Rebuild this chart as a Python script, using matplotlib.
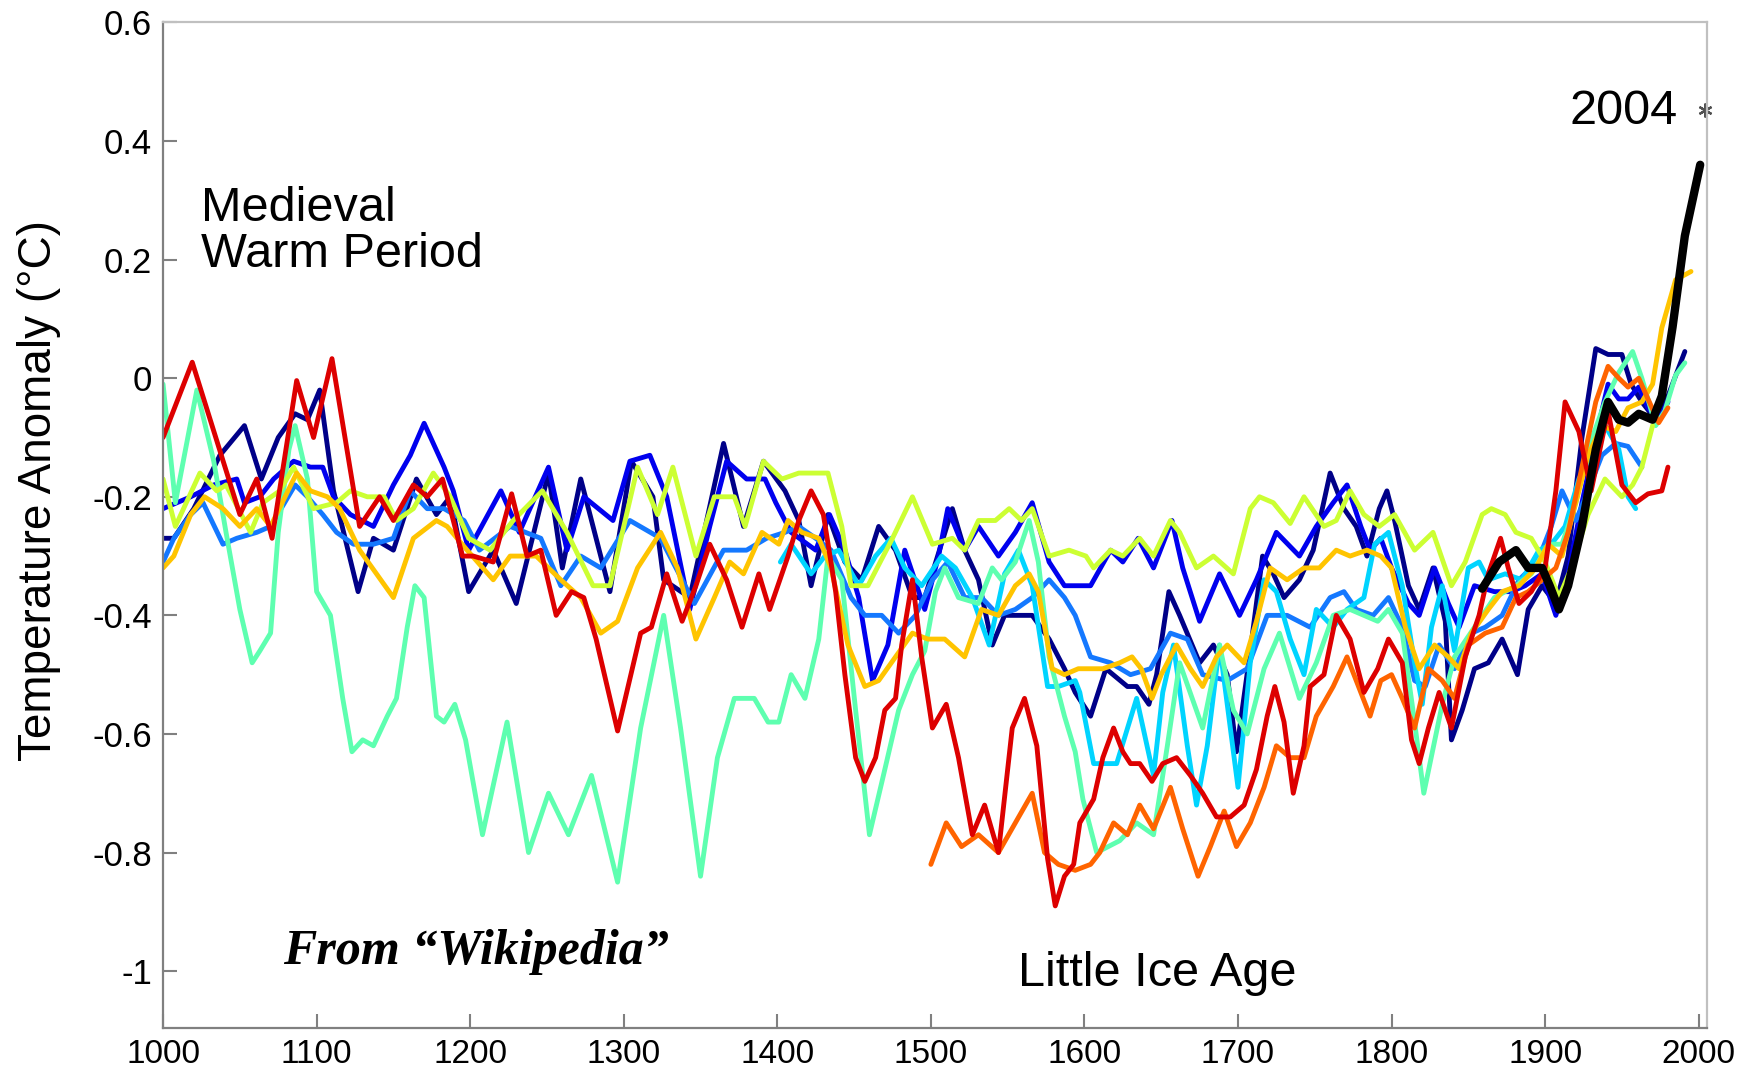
"""
plot.py

Spaghetti plot of ten millennium temperature reconstructions plus the
instrumental record (anomaly in degC, years 1000-2004).
"""

import matplotlib
matplotlib.use("Agg")
import matplotlib.pyplot as plt
from matplotlib import rcParams

# ── data ───────────────────────────────────────────────────────────────────
navy_years = [1000, 1007, 1020, 1037, 1053, 1064, 1075, 1086, 1094, 1102, 1111, 1127, 1137, 1150, 1165,
              1178, 1187, 1199, 1215, 1230, 1251, 1260, 1272, 1291, 1305, 1319, 1326, 1343, 1365, 1378,
              1391, 1405, 1414, 1422, 1433, 1444, 1455, 1466, 1477, 1488, 1496, 1514, 1522, 1531, 1540,
              1548, 1557, 1566, 1577, 1587, 1594, 1604, 1614, 1628, 1634, 1642, 1647, 1655, 1662, 1675,
              1684, 1693, 1699, 1708, 1716, 1723, 1730, 1740, 1749, 1760, 1769, 1777, 1784, 1792, 1797,
              1802, 1811, 1818, 1827, 1835, 1839, 1846, 1854, 1863, 1872, 1882, 1889, 1898, 1907, 1915,
              1924, 1933, 1941, 1950, 1956, 1963, 1972, 1980, 1991]
navy_vals = [-0.27, -0.27, -0.22, -0.13, -0.08, -0.17, -0.10, -0.06, -0.07, -0.02, -0.19, -0.36, -0.27, -0.29, -0.17,
             -0.23, -0.20, -0.36, -0.29, -0.38, -0.16, -0.32, -0.17, -0.36, -0.14, -0.20, -0.34, -0.37, -0.11, -0.25,
             -0.14, -0.19, -0.24, -0.35, -0.23, -0.31, -0.34, -0.25, -0.29, -0.37, -0.37, -0.22, -0.29, -0.34, -0.45,
             -0.40, -0.40, -0.40, -0.44, -0.49, -0.53, -0.57, -0.49, -0.52, -0.52, -0.55, -0.50, -0.36, -0.40, -0.48,
             -0.45, -0.50, -0.63, -0.46, -0.30, -0.33, -0.37, -0.34, -0.29, -0.16, -0.22, -0.25, -0.30, -0.22, -0.19,
             -0.24, -0.35, -0.39, -0.32, -0.41, -0.61, -0.56, -0.49, -0.48, -0.44, -0.50, -0.39, -0.35, -0.38, -0.30,
             -0.10, 0.05, 0.04, 0.04, -0.01, -0.04, -0.07, -0.03, 0.045]

blue_years = [1000, 1018, 1033, 1048, 1053, 1063, 1072, 1085, 1096, 1104, 1111, 1122, 1137, 1150, 1161,
              1170, 1183, 1189, 1199, 1220, 1232, 1251, 1263, 1274, 1293, 1304, 1317, 1328, 1343, 1356,
              1367, 1380, 1392, 1399, 1409, 1425, 1434, 1444, 1453, 1462, 1472, 1483, 1496, 1505, 1511,
              1522, 1531, 1544, 1555, 1566, 1577, 1587, 1594, 1604, 1617, 1625, 1635, 1645, 1657, 1664,
              1675, 1688, 1701, 1712, 1725, 1740, 1751, 1762, 1771, 1780, 1786, 1793, 1800, 1811, 1818,
              1828, 1837, 1844, 1854, 1867, 1878, 1887, 1898, 1907, 1915, 1924, 1933, 1941, 1948, 1954,
              1961, 1967, 1974, 1980]
blue_vals = [-0.22, -0.20, -0.18, -0.17, -0.21, -0.20, -0.17, -0.14, -0.15, -0.15, -0.20, -0.23, -0.25, -0.18, -0.13,
             -0.076, -0.15, -0.19, -0.29, -0.19, -0.26, -0.15, -0.29, -0.20, -0.24, -0.14, -0.13, -0.20, -0.39, -0.25,
             -0.14, -0.17, -0.17, -0.21, -0.26, -0.29, -0.23, -0.29, -0.37, -0.51, -0.45, -0.29, -0.39, -0.30, -0.22,
             -0.29, -0.25, -0.30, -0.26, -0.21, -0.31, -0.35, -0.35, -0.35, -0.29, -0.31, -0.27, -0.32, -0.24, -0.32,
             -0.41, -0.33, -0.40, -0.34, -0.26, -0.30, -0.25, -0.21, -0.18, -0.25, -0.29, -0.27, -0.32, -0.38, -0.40,
             -0.32, -0.38, -0.42, -0.35, -0.36, -0.36, -0.35, -0.33, -0.40, -0.33, -0.21, -0.10, -0.01, -0.035, -0.035,
             -0.015, -0.05, -0.07, -0.04]

ltblue_years = [1000, 1007, 1018, 1026, 1039, 1048, 1061, 1070, 1086, 1094, 1104, 1113, 1124, 1137, 1150,
                1161, 1172, 1183, 1196, 1206, 1226, 1246, 1259, 1272, 1285, 1304, 1324, 1346, 1365, 1380,
                1393, 1405, 1414, 1425, 1435, 1448, 1457, 1468, 1479, 1490, 1501, 1511, 1522, 1533, 1544,
                1555, 1566, 1577, 1587, 1594, 1604, 1617, 1630, 1643, 1656, 1667, 1677, 1693, 1706, 1719,
                1732, 1747, 1760, 1769, 1777, 1788, 1798, 1807, 1815, 1822, 1831, 1841, 1852, 1861, 1872,
                1883, 1891, 1898, 1904, 1911, 1920, 1928, 1937, 1946, 1954, 1963]
ltblue_vals = [-0.31, -0.27, -0.23, -0.21, -0.28, -0.27, -0.26, -0.25, -0.18, -0.20, -0.23, -0.26, -0.28, -0.28, -0.27,
               -0.19, -0.22, -0.22, -0.24, -0.29, -0.25, -0.27, -0.35, -0.30, -0.32, -0.24, -0.27, -0.38, -0.29, -0.29,
               -0.27, -0.26, -0.25, -0.27, -0.29, -0.37, -0.40, -0.40, -0.43, -0.40, -0.34, -0.31, -0.37, -0.37, -0.40,
               -0.39, -0.37, -0.34, -0.37, -0.40, -0.47, -0.48, -0.50, -0.49, -0.43, -0.44, -0.50, -0.51, -0.49, -0.40,
               -0.40, -0.42, -0.37, -0.36, -0.39, -0.40, -0.37, -0.42, -0.51, -0.52, -0.45, -0.49, -0.43, -0.42, -0.40,
               -0.34, -0.32, -0.29, -0.25, -0.19, -0.24, -0.19, -0.13, -0.11, -0.115, -0.15]

cyan_years = [1402, 1409, 1422, 1431, 1440, 1453, 1464, 1474, 1483, 1494, 1507, 1516, 1527, 1538, 1548,
              1557, 1566, 1576, 1583, 1594, 1597, 1606, 1621, 1634, 1645, 1651, 1658, 1667, 1673, 1680,
              1688, 1700, 1708, 1717, 1725, 1734, 1743, 1751, 1762, 1771, 1782, 1789, 1798, 1807, 1815,
              1820, 1826, 1833, 1841, 1850, 1857, 1863, 1874, 1885, 1896, 1904, 1913, 1922, 1930, 1939,
              1948, 1954, 1959]
cyan_vals = [-0.31, -0.28, -0.33, -0.30, -0.29, -0.35, -0.30, -0.27, -0.32, -0.35, -0.30, -0.32, -0.37, -0.45, -0.33,
             -0.29, -0.35, -0.52, -0.52, -0.51, -0.53, -0.65, -0.65, -0.54, -0.67, -0.53, -0.45, -0.62, -0.72, -0.62,
             -0.45, -0.69, -0.48, -0.34, -0.36, -0.44, -0.50, -0.39, -0.42, -0.39, -0.37, -0.28, -0.26, -0.35, -0.48,
             -0.55, -0.42, -0.35, -0.46, -0.32, -0.31, -0.34, -0.33, -0.34, -0.29, -0.28, -0.25, -0.17, -0.13, -0.08,
             -0.12, -0.20, -0.22]

mint_years = [1000, 1008, 1022, 1033, 1041, 1050, 1058, 1063, 1070, 1075, 1082, 1086, 1094, 1100, 1109,
              1117, 1123, 1130, 1137, 1146, 1152, 1159, 1164, 1170, 1178, 1183, 1190, 1197, 1208, 1224,
              1238, 1251, 1264, 1279, 1296, 1311, 1326, 1337, 1350, 1361, 1372, 1385, 1394, 1401, 1409,
              1418, 1427, 1433, 1442, 1451, 1460, 1470, 1479, 1488, 1496, 1503, 1509, 1518, 1531, 1540,
              1546, 1555, 1564, 1570, 1577, 1587, 1594, 1599, 1608, 1623, 1634, 1645, 1654, 1662, 1677,
              1688, 1697, 1706, 1717, 1727, 1740, 1751, 1762, 1773, 1782, 1791, 1798, 1807, 1815, 1821,
              1833, 1841, 1854, 1867, 1881, 1891, 1902, 1911, 1920, 1928, 1939, 1948, 1957, 1963, 1972,
              1978, 1985, 1991]
mint_vals = [-0.01, -0.21, -0.02, -0.14, -0.26, -0.39, -0.48, -0.46, -0.43, -0.26, -0.12, -0.08, -0.17, -0.36, -0.40,
             -0.54, -0.63, -0.61, -0.62, -0.57, -0.54, -0.42, -0.35, -0.37, -0.57, -0.58, -0.55, -0.61, -0.77, -0.58,
             -0.80, -0.70, -0.77, -0.67, -0.85, -0.59, -0.40, -0.59, -0.84, -0.64, -0.54, -0.54, -0.58, -0.58, -0.50,
             -0.54, -0.44, -0.30, -0.34, -0.56, -0.77, -0.66, -0.56, -0.50, -0.46, -0.36, -0.32, -0.37, -0.38, -0.32,
             -0.34, -0.31, -0.24, -0.31, -0.47, -0.57, -0.63, -0.71, -0.80, -0.78, -0.75, -0.77, -0.62, -0.48, -0.59,
             -0.45, -0.56, -0.60, -0.49, -0.43, -0.54, -0.48, -0.40, -0.39, -0.40, -0.41, -0.39, -0.43, -0.58, -0.70,
             -0.55, -0.47, -0.42, -0.37, -0.35, -0.33, -0.28, -0.28, -0.21, -0.12, -0.04, 0.01, 0.045, 0.0, -0.08,
             -0.055, 0.005, 0.026]

lime_years = [1000, 1008, 1024, 1035, 1041, 1057, 1065, 1076, 1085, 1098, 1113, 1122, 1133, 1144, 1152,
              1163, 1176, 1187, 1199, 1213, 1228, 1247, 1263, 1280, 1291, 1309, 1322, 1332, 1347, 1359,
              1372, 1379, 1391, 1403, 1414, 1425, 1433, 1442, 1448, 1459, 1475, 1488, 1501, 1514, 1522,
              1531, 1542, 1551, 1559, 1566, 1577, 1590, 1601, 1606, 1617, 1625, 1636, 1645, 1656, 1662,
              1673, 1684, 1697, 1708, 1714, 1723, 1734, 1743, 1756, 1764, 1773, 1782, 1792, 1802, 1815,
              1827, 1839, 1848, 1859, 1865, 1874, 1881, 1891, 1900, 1909, 1917, 1928, 1939, 1950, 1957,
              1963, 1970]
lime_vals = [-0.17, -0.25, -0.16, -0.19, -0.18, -0.26, -0.21, -0.19, -0.15, -0.22, -0.21, -0.19, -0.20, -0.20, -0.24,
             -0.22, -0.16, -0.20, -0.27, -0.29, -0.24, -0.19, -0.26, -0.35, -0.35, -0.15, -0.23, -0.15, -0.30, -0.20,
             -0.20, -0.25, -0.14, -0.17, -0.16, -0.16, -0.16, -0.25, -0.35, -0.35, -0.27, -0.20, -0.28, -0.27, -0.29,
             -0.24, -0.24, -0.22, -0.24, -0.22, -0.30, -0.29, -0.30, -0.32, -0.29, -0.30, -0.27, -0.30, -0.24, -0.26,
             -0.32, -0.30, -0.33, -0.22, -0.20, -0.21, -0.245, -0.20, -0.25, -0.24, -0.19, -0.23, -0.25, -0.23, -0.29,
             -0.26, -0.35, -0.31, -0.23, -0.22, -0.23, -0.26, -0.27, -0.31, -0.37, -0.32, -0.23, -0.17, -0.20, -0.18,
             -0.15, -0.08]

gold_years = [1000, 1007, 1018, 1027, 1039, 1050, 1061, 1070, 1087, 1096, 1107, 1115, 1128, 1139, 1150,
              1163, 1178, 1185, 1198, 1215, 1226, 1243, 1259, 1272, 1285, 1296, 1309, 1324, 1335, 1347,
              1359, 1369, 1378, 1390, 1401, 1407, 1416, 1427, 1435, 1446, 1457, 1466, 1477, 1488, 1498,
              1509, 1522, 1533, 1544, 1555, 1564, 1570, 1579, 1587, 1596, 1612, 1623, 1631, 1637, 1644,
              1650, 1660, 1669, 1677, 1686, 1693, 1704, 1712, 1721, 1732, 1743, 1753, 1764, 1773, 1784,
              1793, 1800, 1809, 1818, 1828, 1837, 1844, 1852, 1863, 1872, 1883, 1894, 1902, 1911, 1920,
              1928, 1937, 1946, 1954, 1963, 1970, 1976, 1985, 1995]
gold_vals = [-0.32, -0.30, -0.23, -0.20, -0.22, -0.25, -0.22, -0.25, -0.16, -0.19, -0.20, -0.22, -0.29, -0.33, -0.37,
             -0.27, -0.24, -0.25, -0.29, -0.34, -0.30, -0.30, -0.34, -0.37, -0.43, -0.41, -0.32, -0.26, -0.32, -0.44,
             -0.37, -0.31, -0.33, -0.26, -0.28, -0.24, -0.26, -0.27, -0.32, -0.45, -0.52, -0.51, -0.47, -0.43, -0.44,
             -0.44, -0.47, -0.39, -0.40, -0.35, -0.33, -0.36, -0.49, -0.50, -0.49, -0.49, -0.48, -0.47, -0.49, -0.54,
             -0.50, -0.45, -0.49, -0.52, -0.47, -0.45, -0.48, -0.41, -0.32, -0.34, -0.32, -0.32, -0.29, -0.30, -0.29,
             -0.30, -0.32, -0.42, -0.49, -0.45, -0.47, -0.49, -0.43, -0.39, -0.36, -0.35, -0.32, -0.28, -0.30, -0.21,
             -0.13, -0.08, -0.09, -0.05, -0.04, -0.01, 0.085, 0.166, 0.18]

orange_years = [1500, 1510, 1520, 1531, 1544, 1555, 1566, 1574, 1583, 1594, 1604, 1610, 1619, 1628, 1636,
                1645, 1656, 1664, 1674, 1682, 1691, 1699, 1708, 1717, 1725, 1734, 1743, 1751, 1762, 1771,
                1777, 1786, 1793, 1800, 1807, 1815, 1824, 1833, 1841, 1850, 1861, 1872, 1881, 1889, 1898,
                1907, 1915, 1924, 1933, 1941, 1948, 1954, 1961, 1967, 1974, 1980]
orange_vals = [-0.82, -0.75, -0.79, -0.77, -0.80, -0.75, -0.70, -0.80, -0.82, -0.83, -0.82, -0.80, -0.75, -0.77, -0.72,
               -0.76, -0.69, -0.76, -0.84, -0.79, -0.73, -0.79, -0.75, -0.69, -0.62, -0.64, -0.64, -0.57, -0.52, -0.47,
               -0.51, -0.57, -0.51, -0.50, -0.54, -0.59, -0.49, -0.51, -0.54, -0.45, -0.43, -0.42, -0.37, -0.36, -0.34,
               -0.32, -0.26, -0.15, -0.04, 0.02, 0.0, -0.015, 0.0, -0.035, -0.075, -0.05]

red_years = [1000, 1019, 1050, 1061, 1071, 1087, 1098, 1110, 1128, 1141, 1150, 1163, 1172, 1182, 1195,
             1202, 1215, 1227, 1237, 1246, 1256, 1266, 1274, 1282, 1296, 1311, 1318, 1328, 1338, 1347,
             1356, 1367, 1377, 1388, 1395, 1407, 1414, 1422, 1430, 1438, 1444, 1451, 1457, 1464, 1470,
             1477, 1481, 1488, 1494, 1501, 1510, 1518, 1527, 1535, 1544, 1553, 1561, 1569, 1576, 1581,
             1587, 1593, 1597, 1606, 1612, 1619, 1625, 1630, 1636, 1644, 1651, 1660, 1669, 1677, 1686,
             1695, 1704, 1712, 1719, 1724, 1730, 1736, 1743, 1747, 1756, 1764, 1773, 1782, 1791, 1798,
             1807, 1813, 1818, 1824, 1831, 1839, 1848, 1857, 1863, 1871, 1876, 1883, 1891, 1900, 1907,
             1913, 1922, 1930, 1941, 1950, 1959, 1967, 1976, 1980]
red_vals = [-0.10, 0.027, -0.23, -0.17, -0.27, -0.004, -0.10, 0.033, -0.25, -0.20, -0.24, -0.18, -0.20, -0.17, -0.30,
            -0.30, -0.31, -0.195, -0.30, -0.29, -0.40, -0.36, -0.37, -0.44, -0.595, -0.43, -0.42, -0.33, -0.41, -0.35,
            -0.28, -0.34, -0.42, -0.33, -0.39, -0.30, -0.24, -0.19, -0.23, -0.36, -0.50, -0.64, -0.68, -0.64, -0.56,
            -0.54, -0.45, -0.34, -0.47, -0.59, -0.55, -0.64, -0.77, -0.72, -0.80, -0.59, -0.54, -0.62, -0.81, -0.89,
            -0.84, -0.82, -0.75, -0.71, -0.64, -0.59, -0.63, -0.65, -0.65, -0.68, -0.65, -0.64, -0.67, -0.70, -0.74,
            -0.74, -0.72, -0.66, -0.57, -0.52, -0.58, -0.70, -0.62, -0.52, -0.50, -0.40, -0.44, -0.53, -0.49, -0.44,
            -0.48, -0.61, -0.65, -0.59, -0.53, -0.59, -0.47, -0.40, -0.33, -0.27, -0.32, -0.38, -0.36, -0.32, -0.19,
            -0.04, -0.09, -0.19, -0.055, -0.18, -0.21, -0.195, -0.19, -0.15]

instr_years = [1859, 1870, 1881, 1889, 1898, 1903, 1909, 1915, 1924, 1933, 1941, 1948, 1954, 1961, 1970,
               1976, 1983, 1991, 2001]
instr_vals = [-0.355, -0.31, -0.29, -0.32, -0.32, -0.35, -0.39, -0.35, -0.25, -0.12, -0.04, -0.07, -0.075, -0.06, -0.07,
              -0.03, 0.086, 0.24, 0.36]

X_TICKS = [1000, 1100, 1200, 1300, 1400, 1500, 1600, 1700, 1800, 1900, 2000]
Y_TICKS = [-1.0, -0.8, -0.6, -0.4, -0.2, 0.0, 0.2, 0.4, 0.6]
Y_TICK_LABELS = ["-1", "-0.8", "-0.6", "-0.4", "-0.2", "0", "0.2", "0.4", "0.6"]

# ── style ──────────────────────────────────────────────────────────────────
rcParams["font.family"] = ["Liberation Sans", "DejaVu Sans"]

SERIES = [
    (navy_years,   navy_vals,   "#000088"),
    (blue_years,   blue_vals,   "#0000ee"),
    (ltblue_years, ltblue_vals, "#1478ff"),
    (cyan_years,   cyan_vals,   "#00d4ff"),
    (mint_years,   mint_vals,   "#5effb0"),
    (lime_years,   lime_vals,   "#ccff33"),
    (gold_years,   gold_vals,   "#ffc400"),
    (orange_years, orange_vals, "#ff6400"),
    (red_years,    red_vals,    "#dd0000"),
]

fig = plt.figure(figsize=(17.61, 10.75), dpi=100)
ax = fig.add_axes([0.0926, 0.0437, 0.8768, 0.9354])

for yrs, vals, col in SERIES:
    ax.plot(yrs, vals, color=col, lw=3.5,
            solid_joinstyle="round", solid_capstyle="round")
ax.plot(instr_years, instr_vals, color="black", lw=6.0,
        solid_joinstyle="round", solid_capstyle="round")

# 2004 marker (asterisk)
ax.plot([2004], [0.453], marker=(6, 2, 0), ms=10, mew=1.6, color="#505050",
        clip_on=False, ls="none")
ax.text(1986, 0.428, "2004", fontsize=35, ha="right", va="baseline")

# annotations
ax.text(1025, 0.265, "Medieval", fontsize=35, ha="left", va="baseline")
ax.text(1025, 0.187, "Warm Period", fontsize=35, ha="left", va="baseline")
ax.text(1557, -1.025, "Little Ice Age", fontsize=35, ha="left", va="baseline")
ax.text(1078, -0.988, "From \u201cWikipedia\u201d", fontsize=36, ha="left", va="baseline",
        family="Liberation Serif", fontweight="bold", style="italic")

ax.set_xlim(1000, 2005.5)
ax.set_ylim(-1.096, 0.6)
ax.set_xticks(X_TICKS)
ax.set_yticks(Y_TICKS)
ax.set_yticklabels(Y_TICK_LABELS)

ax.tick_params(direction="in", length=10, width=1.5, color="#808080", labelsize=25)
ax.tick_params(axis="x", pad=8, labelsize=24)
ax.tick_params(axis="y", pad=8)

for side in ("left", "bottom"):
    ax.spines[side].set_color("#808080")
    ax.spines[side].set_linewidth(1.6)
for side in ("top", "right"):
    ax.spines[side].set_color("#c0c0c0")
    ax.spines[side].set_linewidth(1.6)

fig.text(0.0221, 0.5433, "Temperature Anomaly (\u00b0C)", rotation=90,
         fontsize=33, ha="center", va="center")

fig.savefig("out.png", dpi=100, facecolor="white")
plt.close(fig)
